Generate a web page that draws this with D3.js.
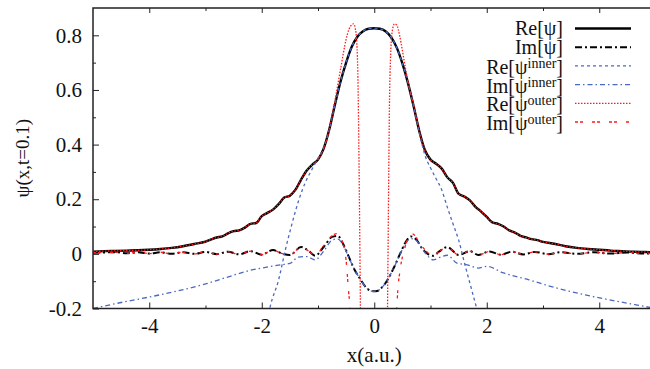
<!DOCTYPE html>
<html>
<head>
<meta charset="utf-8">
<script src="https://cdn.jsdelivr.net/npm/d3@7"></script>
<style>
  body { margin: 0; background: #fff; }
  svg text { font-family: "Liberation Serif", "DejaVu Serif", serif !important; fill: #111; }
</style>
</head>
<body>
<div id="chart"></div>
<script>
    // Re[psi] (black solid)
    const reX = [-5, -4.8, -4.6, -4.4, -4.2, -4, -3.8, -3.6, -3.4, -3.2, -3,
        -2.9, -2.8, -2.7, -2.6, -2.5, -2.4, -2.3, -2.2, -2.1, -2, -1.9, -1.8, -1.7, -1.6, -1.5,
        -1.4, -1.3, -1.2, -1.1, -1, -0.9, -0.8, -0.7, -0.6, -0.5, -0.4, -0.3, -0.2, -0.1, 0,
        0.1, 0.2, 0.3, 0.4, 0.5, 0.6, 0.7, 0.8, 0.9, 1, 1.1, 1.2, 1.3, 1.4, 1.5, 1.6, 1.7, 1.8,
        1.9, 2, 2.1, 2.2, 2.3, 2.4, 2.5, 2.6, 2.7, 2.8, 2.9, 3,
        3.2, 3.4, 3.6, 3.8, 4, 4.2, 4.4, 4.6, 4.8, 5];
    const reY = [0.008, 0.010, 0.011, 0.012, 0.013, 0.015, 0.018, 0.022, 0.028, 0.036, 0.045,
        0.053, 0.060, 0.064, 0.075, 0.083, 0.086, 0.096, 0.110, 0.113, 0.138, 0.150, 0.162, 0.182, 0.206, 0.213,
        0.235, 0.272, 0.305, 0.327, 0.345, 0.385, 0.455, 0.545, 0.630, 0.700, 0.758, 0.795, 0.815, 0.824, 0.826,
        0.824, 0.815, 0.793, 0.755, 0.697, 0.625, 0.540, 0.450, 0.380, 0.345, 0.330, 0.312, 0.280, 0.260, 0.220, 0.210, 0.196, 0.172,
        0.155, 0.135, 0.115, 0.110, 0.100, 0.086, 0.078, 0.066, 0.060, 0.054, 0.050, 0.044,
        0.037, 0.028, 0.022, 0.018, 0.015, 0.012, 0.010, 0.008, 0.007, 0.006];

    // Im[psi] (black dash-dot)
    const imX = [-5, -4.6, -4.4, -4.2, -4, -3.8, -3.6, -3.4, -3.2, -3,
        -2.8, -2.6, -2.4, -2.2, -2, -1.8, -1.65, -1.5, -1.3, -1.15,
        -1.05, -0.9, -0.75, -0.65, -0.55, -0.45, -0.35, -0.25, -0.15, -0.05,
        0, 0.05, 0.15, 0.25, 0.35, 0.45, 0.55, 0.65, 0.75, 0.85,
        0.95, 1.05, 1.15, 1.3, 1.5, 1.7, 1.85, 2.05, 2.25, 2.45,
        2.65, 2.85, 3.1, 3.3, 3.6, 3.9, 4.2, 4.5, 4.8, 5];
    const imY = [0.004, 0.006, 0.002, 0.006, 0.001, 0.006, 0.000, 0.006, 0.000, 0.007,
        -0.001, 0.008, -0.002, 0.010, -0.003, 0.014, 0.002, -0.004, 0.025, 0.008,
        -0.007, 0.025, 0.062, 0.066, 0.035, -0.012, -0.058, -0.092, -0.122, -0.136,
        -0.137, -0.136, -0.120, -0.090, -0.050, -0.004, 0.040, 0.064, 0.052, 0.020,
        0.000, -0.007, 0.008, 0.025, -0.004, 0.010, -0.004, 0.009, -0.003, 0.008,
        -0.002, 0.007, -0.001, 0.006, 0.000, 0.006, 0.001, 0.005, 0.001, 0.003];

    // Re[psi inner] (blue dashed)
    const reInX = [-1.9, -1.85, -1.7, -1.58, -1.46, -1.34, -1.23, -1.11, -1, -0.9, -0.8, -0.7,
        -0.6, -0.5, -0.4, -0.3, -0.2, -0.1, 0, 0.1, 0.2, 0.3, 0.4, 0.5, 0.6, 0.7, 0.8,
        0.9, 1, 1.1, 1.2, 1.3, 1.4, 1.5, 1.6, 1.7, 1.8, 1.85];
    const reInY = [-0.24, -0.193, -0.095, 0.015, 0.112, 0.198, 0.259, 0.308, 0.350, 0.388, 0.455, 0.545,
        0.630, 0.700, 0.758, 0.795, 0.815, 0.824, 0.826, 0.824, 0.815, 0.793, 0.755, 0.697, 0.625, 0.540, 0.445,
        0.362, 0.315, 0.275, 0.234, 0.170, 0.110, 0.051, -0.030, -0.107, -0.183, -0.22];

    // Im[psi inner] (blue dash-dot)
    const imInX = [-5, -4.5, -4, -3.5, -3, -2.5, -2.2, -2, -1.85, -1.65,
        -1.5, -1.35, -1.2, -1.05, -0.9, -0.75, -0.65, -0.55, -0.45, -0.35,
        -0.25, -0.15, -0.05, 0, 0.05, 0.15, 0.25, 0.35, 0.45, 0.55,
        0.65, 0.75, 0.9, 1.05, 1.2, 1.3, 1.47, 1.65, 1.85, 2,
        2.3, 2.75, 3.15, 3.75, 4.35, 4.9, 5];
    const imInY = [-0.200, -0.178, -0.158, -0.136, -0.110, -0.078, -0.060, -0.052, -0.046, -0.040,
        -0.035, -0.012, -0.010, -0.022, 0.010, 0.050, 0.055, 0.030, -0.014, -0.058,
        -0.092, -0.122, -0.136, -0.137, -0.136, -0.120, -0.090, -0.050, -0.006, 0.036,
        0.056, 0.048, 0.005, -0.022, -0.010, -0.005, -0.034, -0.040, -0.052, -0.046,
        -0.070, -0.095, -0.120, -0.150, -0.175, -0.196, -0.200];

    // Re[psi outer] (red dotted)
    const reOutX = [-5, -4.8, -4.6, -4.4, -4.2, -4, -3.8, -3.6, -3.4, -3.2, -3,
        -2.9, -2.8, -2.7, -2.6, -2.5, -2.4, -2.3, -2.2, -2.1, -2, -1.9, -1.8, -1.7, -1.6, -1.5,
        -1.4, -1.3, -1.2, -1.1, -1, -0.9, -0.8, -0.7, -0.6, -0.5, -0.45, -0.4, -0.37, -0.34,
        -0.31, -0.29, -0.28, -0.27, -0.26, -0.25, -0.24, 0, 0.23, 0.24, 0.25, 0.26, 0.27, 0.29,
        0.32, 0.36, 0.4, 0.45, 0.5, 0.55, 0.6, 0.7, 0.8, 0.9, 1, 1.1, 1.2, 1.3, 1.4, 1.5, 1.6,
        1.7, 1.8, 1.9, 2, 2.1, 2.2, 2.3, 2.4, 2.5, 2.6, 2.7, 2.8, 2.9, 3,
        3.2, 3.4, 3.6, 3.8, 4, 4.2, 4.4, 4.6, 4.8, 5];
    const reOutY = [0.008, 0.010, 0.011, 0.012, 0.013, 0.015, 0.018, 0.022, 0.028, 0.036, 0.045,
        0.053, 0.060, 0.064, 0.075, 0.083, 0.086, 0.096, 0.110, 0.113, 0.138, 0.150, 0.162, 0.182, 0.206, 0.213,
        0.235, 0.272, 0.305, 0.327, 0.345, 0.385, 0.455, 0.560, 0.675, 0.785, 0.822, 0.838, 0.842, 0.828,
        0.770, 0.640, 0.500, 0.320, 0.120, -0.100, -0.300, -0.600, -0.300, -0.100, 0.120, 0.340, 0.540, 0.720,
        0.815, 0.842, 0.838, 0.800, 0.745, 0.685, 0.630, 0.545, 0.450, 0.380, 0.345, 0.330, 0.312, 0.280, 0.260, 0.220, 0.210,
        0.196, 0.172, 0.155, 0.135, 0.115, 0.110, 0.100, 0.086, 0.078, 0.066, 0.060, 0.054, 0.050, 0.044,
        0.037, 0.028, 0.022, 0.018, 0.015, 0.012, 0.010, 0.008, 0.007, 0.006];

    // Im[psi outer] (red dashed)
    const imOutX = [-5, -4.6, -4.4, -4.2, -4, -3.8, -3.6, -3.4, -3.2, -3,
        -2.8, -2.6, -2.4, -2.2, -2, -1.8, -1.65, -1.5, -1.3, -1.15,
        -1.05, -0.9, -0.75, -0.66, -0.58, -0.54, -0.49, -0.46, -0.43, -0.4,
        0, 0.38, 0.4, 0.42, 0.46, 0.55, 0.62, 0.68, 0.78, 0.9, 1.05,
        1.15, 1.3, 1.5, 1.7, 1.85, 2.05, 2.25, 2.45,
        2.65, 2.85, 3.1, 3.3, 3.6, 3.9, 4.2, 4.5, 4.8, 5];
    const imOutY = [0.004, 0.006, 0.002, 0.006, 0.001, 0.006, 0.000, 0.006, 0.000, 0.007,
        -0.001, 0.008, -0.002, 0.010, -0.003, 0.014, 0.002, -0.004, 0.025, 0.008,
        -0.005, 0.030, 0.066, 0.074, 0.050, 0.027, -0.046, -0.130, -0.190, -0.260,
        -0.600, -0.280, -0.200, -0.130, -0.059, 0.027, 0.065, 0.073, 0.050, 0.015, -0.006,
        0.008, 0.025, -0.004, 0.010, -0.004, 0.009, -0.003, 0.008,
        -0.002, 0.007, -0.001, 0.006, 0.000, 0.006, 0.001, 0.005, 0.001, 0.003];

    // Axis ticks
    const xMajor = [-4, -2, 0, 2, 4];
    const xMinor = [-3, -1, 1, 3];
    const yMajor = [-0.2, 0, 0.2, 0.4, 0.6, 0.8];
    const yMinor = [-0.1, 0.1, 0.3, 0.5, 0.7];

    const blue = "#4a69c0";
    const red = "#ff1a1a";
    const serif = '"Liberation Serif", "DejaVu Serif", serif';
    const fontSize = "21px";

    const series = [
        { label: "Re[ψ", sup: "", xs: reX, ys: reY, color: "#000", width: 2.4, dash: null },
        { label: "Im[ψ", sup: "", xs: imX, ys: imY, color: "#000", width: 2, dash: "7,3,2,3" },
        { label: "Re[ψ", sup: "inner", xs: reInX, ys: reInY, color: blue, width: 1.3, dash: "3,3" },
        { label: "Im[ψ", sup: "inner", xs: imInX, ys: imInY, color: blue, width: 1.3, dash: "5,3,1.5,3" },
        { label: "Re[ψ", sup: "outer", xs: reOutX, ys: reOutY, color: red, width: 1.3, dash: "1.5,1.5" },
        { label: "Im[ψ", sup: "outer", xs: imOutX, ys: imOutY, color: red, width: 1.3, dash: "3,2,3,9" }
    ];

    const W = 650, H = 369;
    const margin = { top: 8, left: 93 };
    const width = 562.5;
    const height = 300.5;

    const svg = d3.select("#chart")
        .append("svg")
        .attr("width", W)
        .attr("height", H)
        .style("font-family", serif);

    const g = svg.append("g")
        .attr("transform", `translate(${margin.left},${margin.top})`);

    const x = d3.scaleLinear().domain([-5, 5]).range([0, width]);
    const y = d3.scaleLinear().domain([-0.2, 0.9]).range([height, 0]);

    g.append("clipPath").attr("id", "plot-clip")
        .append("rect").attr("width", width).attr("height", height);

    // curves
    const line = d3.line()
        .x(d => x(d[0]))
        .y(d => y(d[1]))
        .curve(d3.curveMonotoneX);

    const plot = g.append("g").attr("clip-path", "url(#plot-clip)");
    series.forEach(s => {
        plot.append("path")
            .datum(s.xs.map((v, i) => [v, s.ys[i]]))
            .attr("fill", "none")
            .attr("stroke", s.color)
            .attr("stroke-width", s.width)
            .attr("stroke-dasharray", s.dash)
            .attr("d", line);
    });

    // axes (ticks point inward)
    const axisStyle = sel => {
        sel.attr("font-family", serif);
        sel.select(".domain").remove();
        sel.selectAll("line").attr("stroke", "#222").attr("stroke-width", 1);
        sel.selectAll("text").style("font-family", serif).style("font-size", fontSize).attr("fill", "#111");
    };

    g.append("g")
        .attr("transform", `translate(0,${height})`)
        .call(d3.axisBottom(x).tickValues(xMajor).tickSize(-6).tickPadding(10).tickFormat(d => String(d)))
        .call(axisStyle);
    g.append("g")
        .attr("transform", `translate(0,${height})`)
        .call(d3.axisBottom(x).tickValues(xMinor).tickSize(-3).tickFormat(""))
        .call(axisStyle);
    g.append("g")
        .call(d3.axisTop(x).tickValues(xMajor).tickSize(-5).tickFormat(""))
        .call(axisStyle);
    g.append("g")
        .call(d3.axisTop(x).tickValues(xMinor).tickSize(-3).tickFormat(""))
        .call(axisStyle);
    g.append("g")
        .call(d3.axisLeft(y).tickValues(yMajor).tickSize(-6).tickPadding(11)
            .tickFormat(d => d === 0 ? "0" : String(d)))
        .call(axisStyle);
    g.append("g")
        .call(d3.axisLeft(y).tickValues(yMinor).tickSize(-3).tickFormat(""))
        .call(axisStyle);

    // frame
    g.append("rect")
        .attr("width", width)
        .attr("height", height)
        .attr("fill", "none")
        .attr("stroke", "#222")
        .attr("stroke-width", 1.5);

    // axis titles
    svg.append("text")
        .attr("x", margin.left + x(0))
        .attr("y", 362)
        .attr("text-anchor", "middle")
        .style("font-family", serif)
        .style("font-size", fontSize)
        .text("x(a.u.)");
    svg.append("text")
        .attr("transform", `translate(29,${margin.top + height / 2}) rotate(-90)`)
        .attr("text-anchor", "middle")
        .style("font-family", serif)
        .style("font-size", "19px")
        .text("ψ(x,t=0.1)");

    // legend
    const legend = svg.append("g");
    series.forEach((s, i) => {
        const ly = 28.5 + i * 18.7;
        const t = legend.append("text")
            .attr("x", 563)
            .attr("y", ly + (s.sup ? 8 : 6.5))
            .attr("text-anchor", "end")
            .style("font-family", serif)
            .style("font-size", "20px");
        t.append("tspan").text(s.label);
        if (s.sup) {
            t.append("tspan").attr("dy", -6).style("font-size", "14px").text(s.sup);
            t.append("tspan").attr("dy", 6).text("]");
        } else {
            t.append("tspan").text("]");
        }
        legend.append("line")
            .attr("x1", 575).attr("x2", 631)
            .attr("y1", ly).attr("y2", ly)
            .attr("stroke", s.color)
            .attr("stroke-width", s.width)
            .attr("stroke-dasharray", s.dash);
    });
</script>
</body>
</html>
